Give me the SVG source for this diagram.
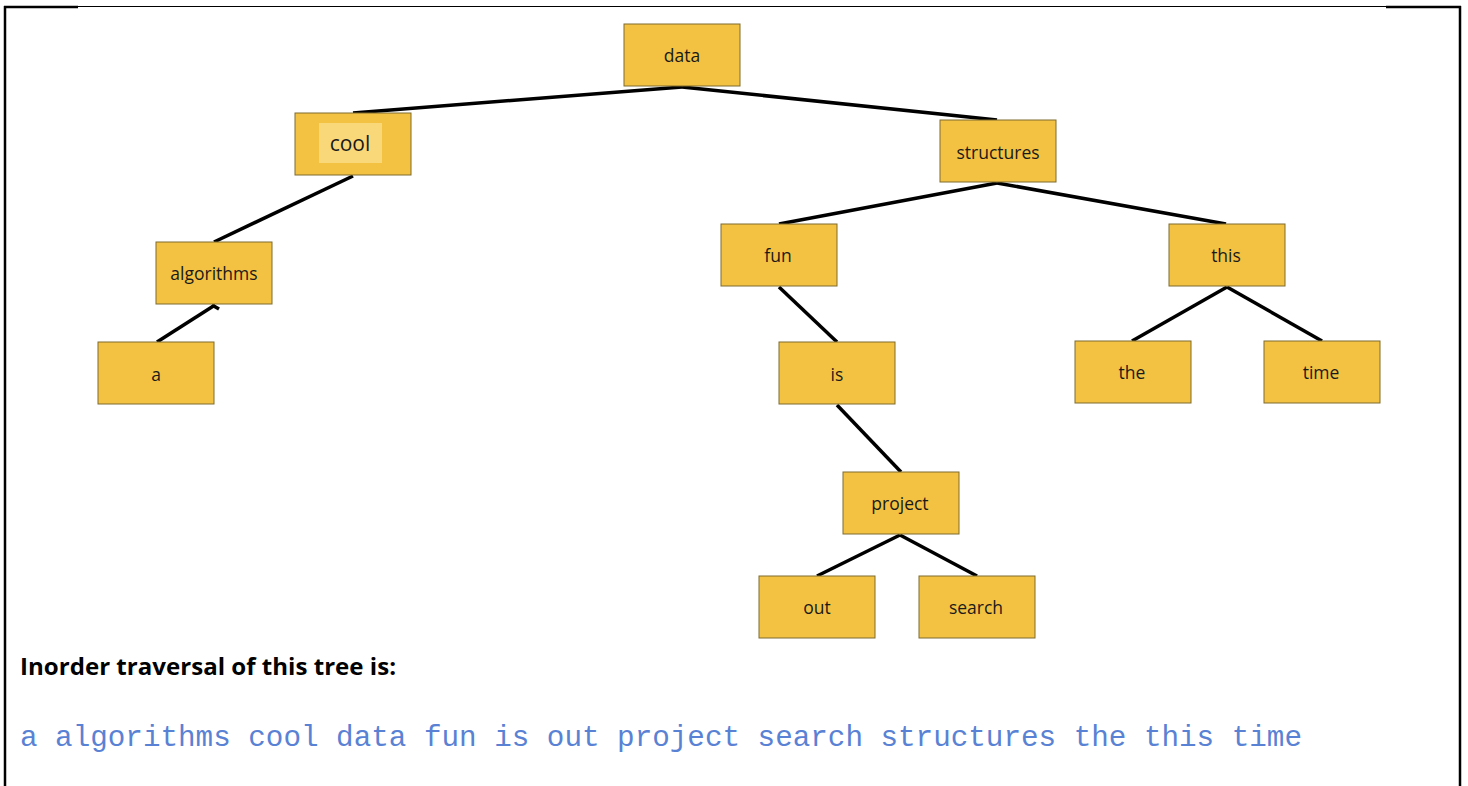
<svg xmlns="http://www.w3.org/2000/svg" width="1468" height="786" viewBox="0 0 1468 786">
<style>
.box{fill:#F4C242;stroke:#7F6A2E;stroke-width:1}
.lbl{font-family:"Open Sans","Noto Sans",sans-serif;font-size:17.5px;fill:#1a1a1a;text-anchor:middle;dominant-baseline:central}
.edge{stroke:#000;stroke-width:3.5;stroke-linecap:butt;fill:none}
.frame{stroke:#000;fill:none}
</style>
<rect width="1468" height="786" fill="#fff"/>
<g id="frame">
<line class="frame" x1="4" y1="6.5" x2="1461" y2="6.5" stroke-width="1.2"/>
<line class="frame" x1="4" y1="7" x2="78" y2="7" stroke-width="2.5"/>
<line class="frame" x1="1386" y1="7" x2="1461" y2="7" stroke-width="2.5"/>
<line class="frame" x1="5" y1="6" x2="5" y2="786" stroke-width="2.5"/>
<line class="frame" x1="1460" y1="6" x2="1460" y2="786" stroke-width="2.5"/>
</g>
<g id="connectors">
<line class="edge" x1="682" y1="87" x2="353" y2="113"/>
<line class="edge" x1="682" y1="87" x2="997" y2="120"/>
<line class="edge" x1="353" y1="176" x2="214" y2="242"/>
<line class="edge" x1="157" y1="342" x2="215" y2="305"/>
<line class="edge" x1="212" y1="305" x2="219" y2="309" stroke-width="2"/>
<line class="edge" x1="997" y1="183" x2="779" y2="224"/>
<line class="edge" x1="997" y1="183" x2="1226" y2="224"/>
<line class="edge" x1="779" y1="287" x2="837" y2="342"/>
<line class="edge" x1="1227" y1="287" x2="1132" y2="341"/>
<line class="edge" x1="1227" y1="287" x2="1322" y2="341"/>
<line class="edge" x1="837" y1="405" x2="901" y2="472"/>
<line class="edge" x1="900" y1="535" x2="817" y2="576"/>
<line class="edge" x1="900" y1="535" x2="977" y2="576"/>
</g>
<g id="node-data"><rect class="box" x="624" y="24" width="116" height="62"/><text class="lbl" x="682" y="55">data</text></g>
<g id="node-cool"><rect class="box" x="295" y="113" width="116" height="62"/><rect x="319" y="123" width="63" height="40" fill="#F8D879"/><text class="lbl" x="350" y="143" style="font-size:21px">cool</text></g>
<g id="node-structures"><rect class="box" x="940" y="120" width="116" height="62"/><text class="lbl" x="998" y="152">structures</text></g>
<g id="node-algorithms"><rect class="box" x="156" y="242" width="116" height="62"/><text class="lbl" x="214" y="273">algorithms</text></g>
<g id="node-a"><rect class="box" x="98" y="342" width="116" height="62"/><text class="lbl" x="156" y="374">a</text></g>
<g id="node-fun"><rect class="box" x="721" y="224" width="116" height="62"/><text class="lbl" x="778" y="255">fun</text></g>
<g id="node-this"><rect class="box" x="1169" y="224" width="116" height="62"/><text class="lbl" x="1226" y="255">this</text></g>
<g id="node-is"><rect class="box" x="779" y="342" width="116" height="62"/><text class="lbl" x="837" y="374">is</text></g>
<g id="node-the"><rect class="box" x="1075" y="341" width="116" height="62"/><text class="lbl" x="1132" y="372">the</text></g>
<g id="node-time"><rect class="box" x="1264" y="341" width="116" height="62"/><text class="lbl" x="1321" y="372">time</text></g>
<g id="node-project"><rect class="box" x="843" y="472" width="116" height="62"/><text class="lbl" x="900" y="503">project</text></g>
<g id="node-out"><rect class="box" x="759" y="576" width="116" height="62"/><text class="lbl" x="817" y="607">out</text></g>
<g id="node-search"><rect class="box" x="919" y="576" width="116" height="62"/><text class="lbl" x="976" y="607">search</text></g>
<text x="20" y="675" font-family="'Open Sans','Noto Sans',sans-serif" font-weight="bold" font-size="22.5" fill="#000" textLength="376" lengthAdjust="spacingAndGlyphs">Inorder traversal of this tree is:</text>
<text x="20" y="746" font-family="'Liberation Mono',monospace" font-size="29.3" fill="#5A82D4" textLength="1282" lengthAdjust="spacing" xml:space="preserve">a algorithms cool data fun is out project search structures the this time</text>
</svg>
